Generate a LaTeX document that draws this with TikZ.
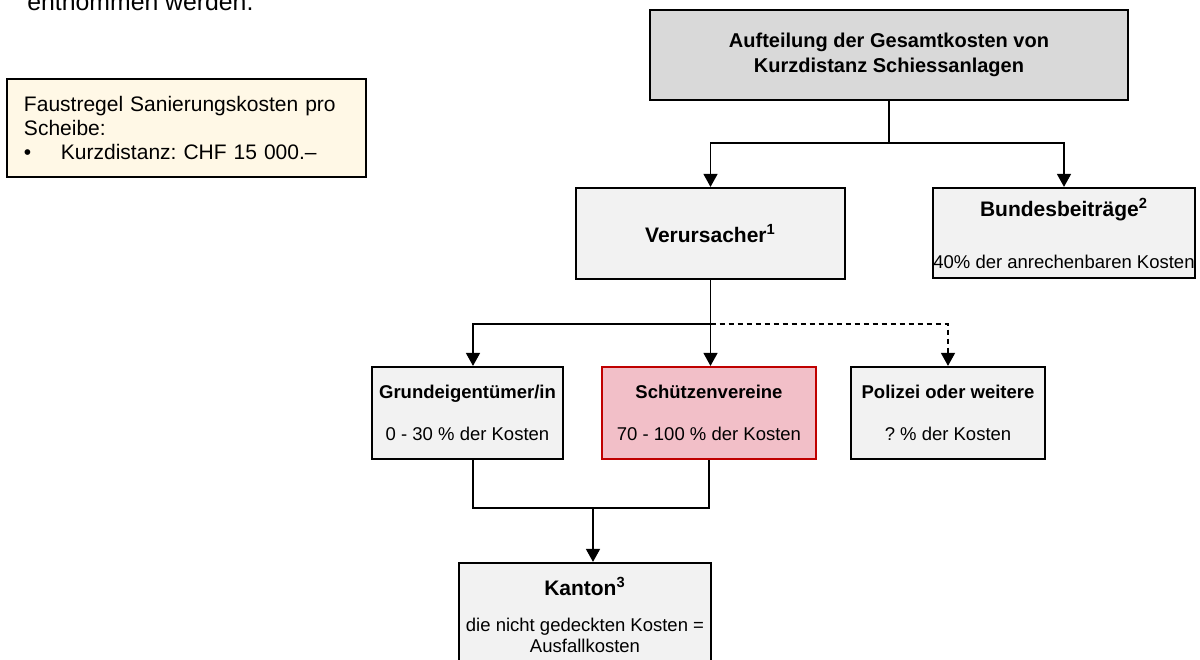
\documentclass[tikz,border=0pt]{standalone}
\usepackage{fontspec}
\setmainfont{Liberation Sans}
\usetikzlibrary{arrows.meta}
\frenchspacing

\definecolor{boxgray}{HTML}{F2F2F2}
\definecolor{headgray}{HTML}{D9D9D9}
\definecolor{clubpink}{HTML}{F2BFC8}
\definecolor{clubred}{HTML}{C00000}
\definecolor{notecream}{HTML}{FFF8E6}

\begin{document}
\begin{tikzpicture}[x=0.5pt,y=-0.5pt,
    box/.style={draw=black, line width=1.1pt, fill=boxgray, align=center,
        inner sep=0pt, font=\fontsize{9.25}{10.5}\selectfont},
    link/.style={line width=0.75pt},
    arr/.style={link, -{Triangle[length=6.5pt,width=7pt]}}]
    \clip (0,0) rectangle (1200,659);

    \def\px{0.5pt}

    % text cut at the top edge
    \node[anchor=base west, inner sep=0pt, font=\fontsize{12.4}{14}\selectfont] (note) at (27,10) {entnommen werden.};

    % rule of thumb
    \node[draw=black, line width=0.8pt, fill=notecream, text width=162.5pt, align=left,
        inner xsep=8.5pt, inner ysep=0pt, minimum height=98*\px,
        font=\fontsize{10.5}{12}\selectfont] (rule) at (186.5,128)
        {Faustregel Sanierungskosten pro\\Scheibe:\\\makebox[18.5pt][l]{•}Kurzdistanz: CHF 15 000.\textendash};

    % boxes
    \node[box, fill=headgray, minimum width=478*\px, minimum height=90*\px,
        font=\fontsize{10}{12.5}\selectfont\bfseries] (top) at (889,55)
        {Aufteilung der Gesamtkosten von\\Kurzdistanz Schiessanlagen};

    \node[box, minimum width=269*\px, minimum height=91*\px] (verur) at (710.5,233.5)
        {{\fontsize{10.5}{12}\selectfont\bfseries Verursacher\textsuperscript{1}}};
    \node[box, minimum width=262*\px, minimum height=90*\px] (bund) at (1064,233)
        {{\fontsize{10.5}{12}\selectfont\bfseries Bundesbeiträge\textsuperscript{2}}\\[15.5pt]40\% der anrechenbaren Kosten};

    \node[box, minimum width=191*\px, minimum height=92*\px] (grund) at (467.5,413)
        {\textbf{Grundeigentümer/in}\\[10.5pt]0 - 30 \% der Kosten};
    \node[box, draw=clubred, fill=clubpink, minimum width=214*\px, minimum height=92*\px] (schuetz) at (709,413)
        {\textbf{Schützenvereine}\\[10.5pt]70 - 100 \% der Kosten};
    \node[box, minimum width=194*\px, minimum height=92*\px] (polizei) at (948,413)
        {\textbf{Polizei oder weitere}\\[10.5pt]? \% der Kosten};

    \node[box, minimum width=252*\px, minimum height=104*\px] (kanton) at (585,615)
        {{\fontsize{10.5}{12}\selectfont\bfseries Kanton\textsuperscript{3}}\\[7.5pt]die nicht gedeckten Kosten =\\Ausfallkosten};

    % connectors
    \coordinate (splitA) at (889,143);
    \draw[link] (top.south) -- (splitA);
    \draw[arr] (splitA) -| (verur.north);
    \draw[arr] (splitA) -| (bund.north);

    \coordinate (splitB) at (710.5,324);
    \draw[arr] (verur.south) -- (verur.south |- schuetz.north);
    \draw[arr] (splitB) -| ([xshift=2.75pt]grund.north);
    \draw[arr, dash pattern=on 2.5pt off 2pt] (splitB) -| (polizei.north);

    \coordinate (joinC) at (593,508);
    \draw[link] ([xshift=2.75pt]grund.south) |- (joinC);
    \draw[link] (schuetz.south) |- (joinC);
    \draw[arr] (joinC) -- (joinC |- kanton.north);
\end{tikzpicture}
\end{document}
